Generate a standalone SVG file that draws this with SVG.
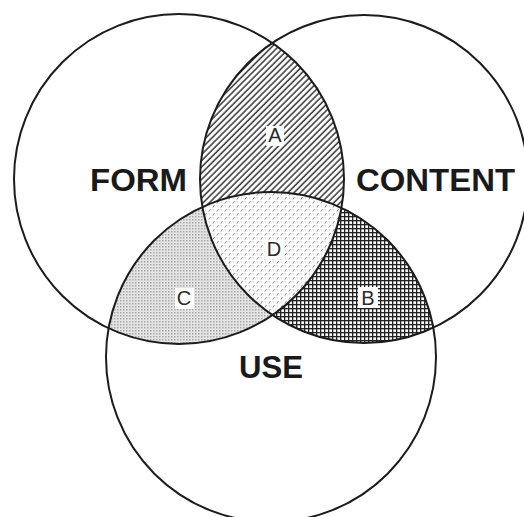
<svg xmlns="http://www.w3.org/2000/svg" width="524" height="517" viewBox="0 0 524 517">
  <style>
    .ring { fill: none; stroke: #1c1c1c; stroke-width: 2; }
    .big { font-family: "Liberation Sans", Arial, sans-serif; font-weight: bold; font-size: 32px; fill: #1a1a1a; }
    .tag { font-family: "Liberation Sans", Arial, sans-serif; font-size: 20px; fill: #2a2a2a; text-anchor: middle; }
    .knock { fill: #fff; }
  </style>
  <defs>
    <!-- the three circles, reused for clipping -->
    <clipPath id="clipForm"><circle cx="179" cy="179" r="165"/></clipPath>
    <clipPath id="clipContent"><circle cx="364" cy="179" r="164"/></clipPath>
    <clipPath id="clipUse"><circle cx="271" cy="357" r="165"/></clipPath>

    <!-- A: diagonal hatching -->
    <pattern id="hatch" width="4.4" height="4.4" patternUnits="userSpaceOnUse" patternTransform="rotate(45)">
      <rect width="4.4" height="4.4" fill="#fff"/>
      <line x1="1" y1="0" x2="1" y2="4.4" stroke="#2a2a2a" stroke-width="1.4"/>
    </pattern>
    <!-- B: dense cross-hatch grid -->
    <pattern id="grid" width="4" height="4" patternUnits="userSpaceOnUse">
      <rect width="4" height="4" fill="#fafafa"/>
      <rect x="0" y="0" width="4" height="1.3" fill="#222"/>
      <rect x="0" y="0" width="1.3" height="4" fill="#222"/>
    </pattern>
    <!-- C: fine grey stipple -->
    <pattern id="stipple" width="3" height="3" patternUnits="userSpaceOnUse">
      <rect width="3" height="3" fill="#e4e4e4"/>
      <rect x="0" y="0" width="1.5" height="1.5" fill="#a8a8a8"/>
    </pattern>
    <!-- D: sparse short dashes on white -->
    <pattern id="dash" width="8" height="8" patternUnits="userSpaceOnUse">
      <rect width="8" height="8" fill="#fafafa"/>
      <line x1="0.8" y1="3.5" x2="2.6" y2="1" stroke="#8a8a8a" stroke-width="1"/>
      <line x1="4.8" y1="7.5" x2="6.6" y2="5" stroke="#8a8a8a" stroke-width="1"/>
      <rect x="5" y="1.5" width="1" height="1" fill="#c8c8c8"/>
      <rect x="1" y="5.5" width="1" height="1" fill="#c8c8c8"/>
    </pattern>
  </defs>

  <rect width="524" height="517" fill="#fff"/>

  <!-- shaded overlaps -->
  <g id="region-a">
    <g clip-path="url(#clipForm)"><circle cx="364" cy="179" r="164" fill="url(#hatch)"/></g>
  </g>
  <g id="region-c">
    <g clip-path="url(#clipForm)"><circle cx="271" cy="357" r="165" fill="url(#stipple)"/></g>
  </g>
  <g id="region-b">
    <g clip-path="url(#clipContent)"><circle cx="271" cy="357" r="165" fill="url(#grid)"/></g>
  </g>
  <g id="region-d">
    <g clip-path="url(#clipForm)"><g clip-path="url(#clipContent)"><circle cx="271" cy="357" r="165" fill="url(#dash)"/></g></g>
  </g>

  <!-- circle outlines -->
  <g id="form">
    <circle class="ring" cx="179" cy="179" r="165"/>
    <text class="big" x="90" y="191" textLength="97" lengthAdjust="spacingAndGlyphs">FORM</text>
  </g>
  <g id="content">
    <circle class="ring" cx="364" cy="179" r="164"/>
    <text class="big" x="356" y="191" textLength="159" lengthAdjust="spacingAndGlyphs">CONTENT</text>
  </g>
  <g id="use">
    <circle class="ring" cx="271" cy="357" r="165"/>
    <text class="big" x="239" y="378" textLength="64" lengthAdjust="spacingAndGlyphs">USE</text>
  </g>

  <!-- region letters on white knock-out boxes -->
  <g id="label-a">
    <rect class="knock" x="266" y="126" width="18" height="20"/>
    <text class="tag" x="275" y="142">A</text>
  </g>
  <g id="label-d">
    <rect class="knock" x="265" y="240" width="18" height="19"/>
    <text class="tag" x="274" y="256">D</text>
  </g>
  <g id="label-c">
    <rect class="knock" x="175" y="288" width="19" height="21"/>
    <text class="tag" x="184" y="305">C</text>
  </g>
  <g id="label-b">
    <rect class="knock" x="358" y="287" width="20" height="21"/>
    <text class="tag" x="368" y="305">B</text>
  </g>
</svg>
